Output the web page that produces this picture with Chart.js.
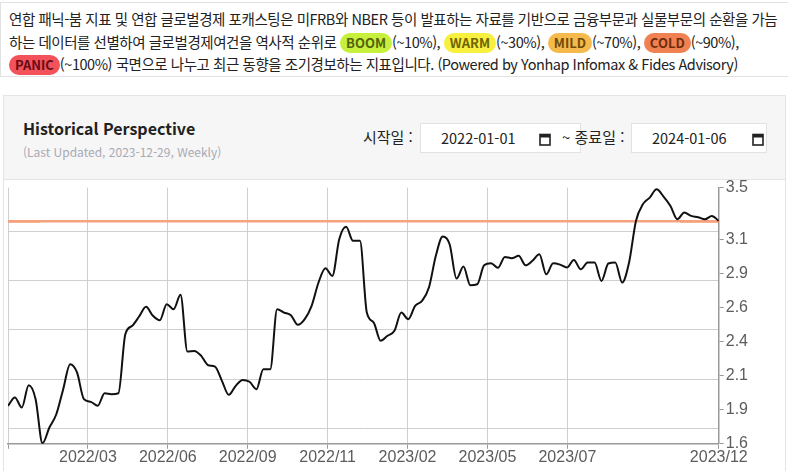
<!DOCTYPE html>
<html lang="ko">
<head>
    <meta charset="UTF-8">
    <title>Historical Perspective</title>
    <script src="https://cdn.jsdelivr.net/npm/chart.js"></script>
    <style>
        body { margin: 0; background: #fff; font-family: 'Noto Sans CJK KR', sans-serif; width: 789px; height: 471px; overflow: hidden; position: relative; }
        #desc { position: absolute; left: 0; top: 2px; width: 788px; height: 75px; border-top: 1px solid #e2e2e2; border-bottom: 1px solid #e2e2e2; border-left: 1px solid #e2e2e2; box-sizing: border-box; padding: 5px 0 0 8px; font-size: 14.5px; line-height: 22.5px; color: #222; letter-spacing: -0.45px; }
        .badge { display: inline-block; padding: 0 6px; border-radius: 11px; font-weight: bold; font-size: 13px; line-height: 20px; letter-spacing: 0; }
        .boom { background: #c6f03c; color: #55640a; }
        .warm { background: #f7f03e; color: #6e6400; }
        .mild { background: #f5b94c; color: #6e4a05; }
        .cold { background: #f08153; color: #6e2d0a; }
        .panic { background: #f3525b; color: #6a0a14; }
        #card { position: absolute; left: 3px; top: 95px; width: 783px; height: 380px; border: 1px solid #e4e4e4; box-sizing: border-box; }
        #head { position: absolute; left: 0; top: 0; right: 0; height: 83px; background: #f6f6f6; border-bottom: 1px solid #e4e4e4; }
        #title { position: absolute; left: 19px; top: 20px; font-size: 16px; font-weight: bold; color: #222; }
        #updated { position: absolute; left: 19px; top: 47px; font-size: 12px; color: #a9a9b3; }
        .lbl { position: absolute; top: 30px; font-size: 15px; color: #222; }
        .date { position: absolute; top: 27px; height: 30px; background: #fff; border: 1px solid #e2e2e2; box-sizing: border-box; font-size: 14.5px; color: #222; line-height: 28px; }
        .date span { position: absolute; left: 20px; }
        .date svg { position: absolute; top: 9px; }
        #chartBox { position: absolute; left: 4px; top: 176px; width: 782px; height: 295px; }
    </style>
</head>
<body>
    <div id="desc">연합 패닉-붐 지표 및 연합 글로벌경제 포캐스팅은 미FRB와 NBER 등이 발표하는 자료를 기반으로 금융부문과 실물부문의 순환을 가늠하는 데이터를 선별하여 글로벌경제여건을 역사적 순위로 <span class="badge boom">BOOM</span>(~10%), <span class="badge warm">WARM</span>(~30%), <span class="badge mild">MILD</span>(~70%), <span class="badge cold">COLD</span>(~90%),<br><span class="badge panic">PANIC</span>(~100%) 국면으로 나누고 최근 동향을 조기경보하는 지표입니다. (Powered by Yonhap Infomax &amp; Fides Advisory)</div>
    <div id="card">
        <div id="head">
            <div id="title">Historical Perspective</div>
            <div id="updated">(Last Updated, 2023-12-29, Weekly)</div>
            <div class="lbl" style="left:359px">시작일 :</div>
            <div class="date" style="left:416px;width:161px"><span>2022-01-01</span>
                <svg style="left:118px" width="12" height="13" viewBox="0 0 12 13"><rect x="1" y="1.5" width="10" height="10.5" fill="none" stroke="#222" stroke-width="1.6"/><rect x="1" y="1.5" width="10" height="3" fill="#222"/></svg></div>
            <div class="lbl" style="left:558px">~ 종료일 :</div>
            <div class="date" style="left:627px;width:136px"><span>2024-01-06</span>
                <svg style="left:120px" width="12" height="13" viewBox="0 0 12 13"><rect x="1" y="1.5" width="10" height="10.5" fill="none" stroke="#222" stroke-width="1.6"/><rect x="1" y="1.5" width="10" height="3" fill="#222"/></svg></div>
        </div>
    </div>
    <div id="chartBox"><canvas id="chart"></canvas></div>
    <script>
        // weekly index values, 2022-01-07 ~ 2023-12-29
        const indexValues = [
            1.882, 1.943, 1.869, 2.034, 1.931, 1.604, 1.721, 1.819, 2.005, 2.190,
            2.129, 1.931, 1.911, 1.882, 1.975, 1.968, 1.975, 2.412, 2.475, 2.544,
            2.616, 2.549, 2.516, 2.635, 2.598, 2.705, 2.284, 2.289, 2.252, 2.183,
            2.173, 2.067, 1.963, 2.030, 2.074, 2.060, 2.005, 2.153, 2.153, 2.598,
            2.573, 2.553, 2.482, 2.524, 2.623, 2.796, 2.902, 2.845, 3.117, 3.209,
            3.105, 3.105, 2.573, 2.499, 2.364, 2.401, 2.438, 2.573, 2.524, 2.623,
            2.660, 2.759, 2.994, 3.137, 3.080, 2.825, 2.914, 2.776, 2.783, 2.924,
            2.939, 2.905, 2.986, 2.976, 2.994, 2.924, 2.957, 3.006, 2.857, 2.939,
            2.929, 2.907, 2.964, 2.894, 2.944, 2.944, 2.808, 2.937, 2.944, 2.796,
            2.944, 3.253, 3.376, 3.426, 3.487, 3.433, 3.364, 3.265, 3.315, 3.290,
            3.280, 3.265, 3.290, 3.253
        ];
        const threshold = 3.25;
        const thresholdEnds = [0, 4.7, 97.4, 103];

        const xTickValues = [0, 11.58, 23.16, 34.74, 46.32, 57.9, 69.48, 81.06, 103];
        const xTickLabels = ['', '2022/03', '2022/06', '2022/09', '2022/11', '2023/02', '2023/05', '2023/07', '2023/12'];
        const yTickValues = [1.6, 1.852, 2.104, 2.356, 2.608, 2.86, 3.112, 3.5];
        const yTickLabels = ['1.6', '1.9', '2.1', '2.4', '2.6', '2.9', '3.1', '3.5'];
        const gridValues = [1.713, 2.079, 2.445, 2.811, 3.177];

        const tickFont = { family: 'Liberation Sans', size: 16 };

        new Chart(document.getElementById('chart'), {
            type: 'line',
            data: {
                datasets: [{
                    data: indexValues.map((v, i) => ({ x: i, y: v })),
                    borderColor: '#111',
                    borderWidth: 2,
                    cubicInterpolationMode: 'monotone',
                    pointRadius: 0,
                    yAxisID: 'y',
                    order: 1
                }, {
                    data: [{ x: 0, y: threshold }, { x: 103, y: threshold }],
                    borderColor: '#f5a27f',
                    borderWidth: 2.5,
                    pointRadius: 0,
                    yAxisID: 'y',
                    order: 2
                }, {
                    data: [
                        { x: thresholdEnds[0], y: threshold }, { x: thresholdEnds[1], y: threshold },
                        { x: 50, y: null },
                        { x: thresholdEnds[2], y: threshold }, { x: thresholdEnds[3], y: threshold }
                    ],
                    borderColor: '#f08052',
                    borderWidth: 2.5,
                    pointRadius: 0,
                    spanGaps: false,
                    yAxisID: 'y',
                    order: 2
                }]
            },
            options: {
                responsive: true,
                maintainAspectRatio: false,
                animation: false,
                layout: { padding: { left: 4, right: 36, top: 2, bottom: 5 } },
                plugins: { legend: { display: false }, tooltip: { enabled: false } },
                scales: {
                    x: {
                        type: 'linear',
                        min: 0,
                        max: 103,
                        afterBuildTicks: s => { s.ticks = xTickValues.map(v => ({ value: v })); },
                        ticks: {
                            autoSkip: false,
                            maxRotation: 0,
                            color: '#5c5c5c',
                            font: tickFont,
                            padding: -1,
                            callback: (v, i) => xTickLabels[i]
                        },
                        grid: {
                            color: '#cfcfcf',
                            borderDash: [4, 4],
                            tickColor: '#999',
                            tickLength: 5,
                            tickBorderDash: []
                        },
                        border: { color: '#999', width: 1.5 }
                    },
                    y: {
                        position: 'right',
                        min: 1.6,
                        max: 3.5,
                        afterBuildTicks: s => { s.ticks = yTickValues.map(v => ({ value: v })); },
                        ticks: {
                            color: '#5c5c5c',
                            font: tickFont,
                            padding: 2,
                            callback: (v, i) => yTickLabels[i]
                        },
                        grid: { drawOnChartArea: false, tickColor: '#999', tickLength: 5 },
                        border: { color: '#999', width: 1.5 }
                    },
                    yGrid: {
                        position: 'left',
                        min: 1.6,
                        max: 3.5,
                        afterBuildTicks: s => { s.ticks = gridValues.map(v => ({ value: v })); },
                        ticks: { display: false },
                        grid: { color: '#cfcfcf', borderDash: [4, 4], drawTicks: false },
                        border: { display: false }
                    }
                }
            }
        });
    </script>
</body>
</html>
